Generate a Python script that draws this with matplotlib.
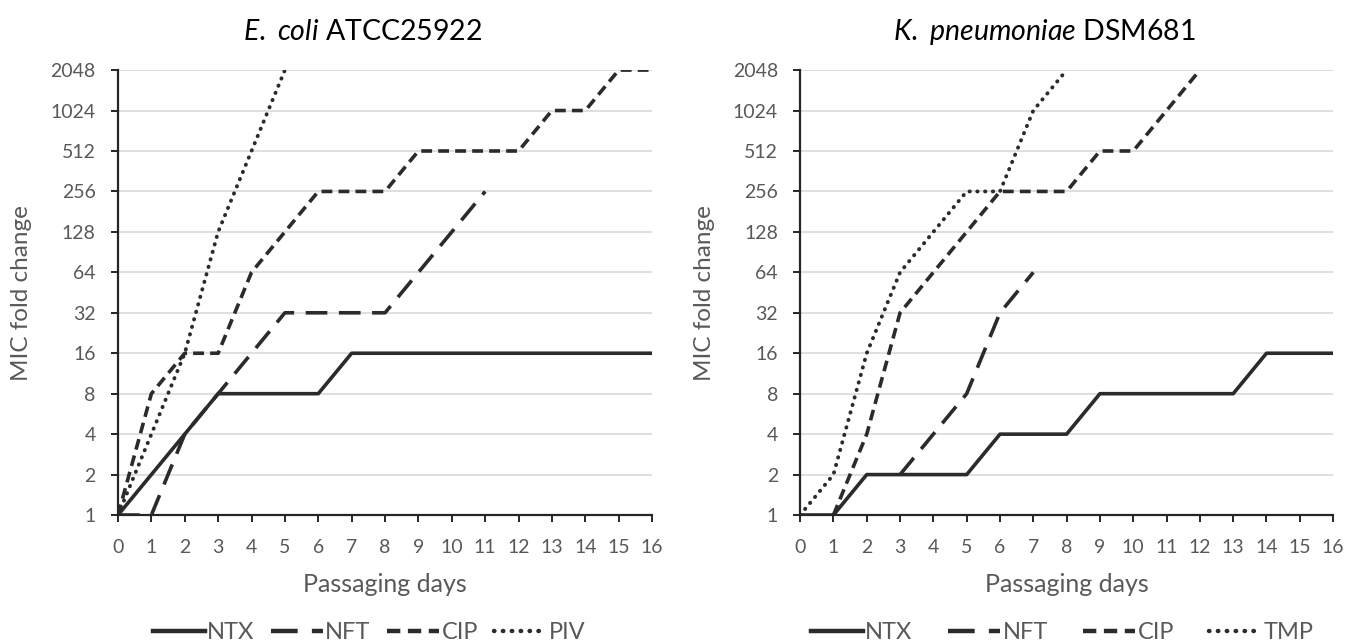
import matplotlib
matplotlib.use("Agg")
import matplotlib.pyplot as plt
from matplotlib.ticker import FixedLocator, NullLocator

plt.rcParams['font.family'] = ['Lato', 'DejaVu Sans']
plt.rcParams['mathtext.fontset'] = 'custom'
plt.rcParams['mathtext.it'] = 'Lato:italic'
plt.rcParams['mathtext.rm'] = 'Lato'

# values are log2 of the MIC fold change
ecoli_days = dict(
    NTX=list(range(0, 17)),
    NFT=list(range(0, 12)),
    CIP=list(range(0, 17)),
    PIV=list(range(0, 6)),
)
ecoli_log2 = dict(
    NTX=[0, 1, 2, 3, 3, 3, 3, 4, 4, 4, 4, 4, 4, 4, 4, 4, 4],
    NFT=[0, 0, 2, 3, 4, 5, 5, 5, 5, 6, 7, 8],
    CIP=[0, 3, 4, 4, 6, 7, 8, 8, 8, 9, 9, 9, 9, 10, 10, 11, 11],
    PIV=[0, 2, 4, 7, 9, 11],
)

kpn_days = dict(
    NTX=list(range(0, 17)),
    NFT=list(range(3, 8)),
    CIP=list(range(1, 13)),
    TMP=list(range(0, 9)),
)
kpn_log2 = dict(
    NTX=[0, 0, 1, 1, 1, 1, 2, 2, 2, 3, 3, 3, 3, 3, 4, 4, 4],
    NFT=[1, 2, 3, 5, 6],
    CIP=[0, 2, 5, 6, 7, 8, 8, 8, 9, 9, 10, 11],
    TMP=[0, 1, 4, 6, 7, 8, 8, 10, 11],
)

y_ticks = [1, 2, 4, 8, 16, 32, 64, 128, 256, 512, 1024, 2048]
x_ticks = list(range(0, 17))

line_color = '#2b2b2b'
text_color = '#595959'
styles = {
    'NTX': dict(linestyle='-', linewidth=2.6),
    'NFT': dict(linestyle=(0, (6, 3.2)), linewidth=2.6),
    'CIP': dict(linestyle=(0, (3.0, 1.7)), linewidth=2.6),
    'PIV': dict(linestyle=(0, (0.1, 1.9)), linewidth=2.8, dash_capstyle='round'),
    'TMP': dict(linestyle=(0, (0.1, 1.9)), linewidth=2.8, dash_capstyle='round'),
}


def draw_panel(ax, days, log2vals, title_italic, title_rest, colspace, leg_x):
    for name in log2vals:
        ax.plot(days[name], [2 ** v for v in log2vals[name]], color=line_color,
                label=name, **styles[name])
    ax.set_yscale('log', base=2)
    ax.set_ylim(1, 2048)
    ax.set_xlim(0, 16)
    ax.yaxis.set_major_locator(FixedLocator(y_ticks))
    ax.yaxis.set_minor_locator(NullLocator())
    ax.set_yticklabels([str(t) for t in y_ticks])
    ax.set_xticks(x_ticks)
    ax.grid(axis='y', color='#d9d9d9', linewidth=1.2)
    ax.set_axisbelow(True)
    for s in ['top', 'right']:
        ax.spines[s].set_visible(False)
    for s in ['left', 'bottom']:
        ax.spines[s].set_color('#262626')
        ax.spines[s].set_linewidth(1.6)
    ax.tick_params(axis='both', colors='#262626', labelcolor=text_color,
                   labelsize=14, length=5, width=1.4, direction='out')
    ax.tick_params(axis='y', pad=11)
    ax.tick_params(axis='x', pad=12)
    ax.set_ylabel('MIC fold change', fontsize=17.5, color=text_color, va='center')
    ax.yaxis.set_label_coords(-0.18, 0.5)
    ax.set_xlabel('Passaging days', fontsize=18, color=text_color, va='center')
    ax.xaxis.set_label_coords(0.5, -0.157)
    ax.set_title(r'$\it{' + title_italic.replace(' ', r'\ ') + r'}$ ' + title_rest,
                 fontsize=20.5, color='black', pad=22, x=0.458)
    leg = ax.legend(loc='center', bbox_to_anchor=(leg_x, -0.265), ncol=4,
                    frameon=False, fontsize=17, handlelength=2.2,
                    columnspacing=colspace, handletextpad=0.1)
    for t in leg.get_texts():
        t.set_color(text_color)
    for h in leg.get_lines():
        h.set_linewidth(3.2)


fig = plt.figure(figsize=(13.47, 6.43), dpi=100)
ax1 = fig.add_axes([0.0876, 0.199, 0.3965, 0.692])
ax2 = fig.add_axes([0.594, 0.199, 0.3957, 0.692])

draw_panel(ax1, ecoli_days, ecoli_log2, 'E. coli', 'ATCC25922', 0.7, 0.47)
draw_panel(ax2, kpn_days, kpn_log2, 'K. pneumoniae', 'DSM681', 1.5, 0.492)

fig.savefig('out.png', dpi=100)
